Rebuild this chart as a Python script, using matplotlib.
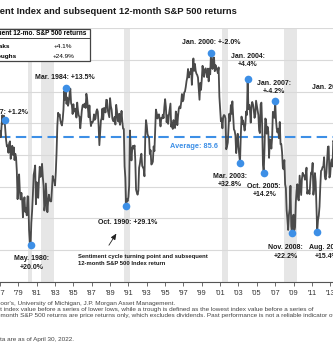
import matplotlib
matplotlib.use("Agg")
import matplotlib.pyplot as plt
from matplotlib.patches import Rectangle
import numpy as np

plt.rcParams['font.family'] = ['Liberation Sans', 'DejaVu Sans']

# University of Michigan consumer sentiment, monthly, Jan 1977 - Dec 2013
start_year = 1977
sentiment = [
    87.5, 85.6, 89.1, 92.5, 89.8, 92.4, 90.9, 87.6, 84.6, 82.7, 83.0, 80.7,   # 1977
    83.7, 84.3, 78.8, 81.6, 82.9, 80.0, 82.4, 78.4, 80.4, 79.3, 75.0, 66.1,   # 1978
    72.1, 73.9, 68.4, 66.0, 68.1, 65.8, 60.4, 64.5, 66.7, 62.1, 63.3, 61.0,   # 1979
    67.0, 66.9, 56.5, 52.7, 51.7, 58.7, 62.3, 67.3, 73.7, 75.0, 76.7, 64.5,   # 1980
    71.4, 66.9, 66.5, 72.4, 76.3, 73.1, 74.1, 77.2, 73.1, 70.3, 62.5, 64.3,   # 1981
    71.0, 66.5, 62.0, 65.5, 67.5, 65.7, 65.4, 65.4, 69.3, 73.4, 72.1, 71.9,   # 1982
    70.4, 74.6, 80.8, 89.1, 93.3, 92.2, 92.8, 90.9, 89.9, 89.3, 91.1, 94.2,   # 1983
    100.1, 97.4, 101.0, 96.1, 98.1, 95.5, 96.6, 99.1, 100.9, 96.3, 95.7, 92.9,  # 1984
    96.0, 93.7, 93.7, 94.6, 91.8, 96.5, 94.0, 92.4, 92.1, 88.4, 90.9, 93.9,   # 1985
    95.6, 95.9, 95.1, 96.2, 94.8, 99.3, 97.7, 94.9, 91.9, 95.6, 91.4, 89.1,   # 1986
    90.4, 90.2, 90.8, 92.8, 91.1, 91.5, 93.7, 94.4, 93.6, 89.3, 83.1, 86.8,   # 1987
    90.8, 91.6, 94.6, 91.2, 94.8, 94.7, 93.4, 97.4, 97.3, 94.1, 93.0, 91.9,   # 1988
    97.9, 95.4, 94.3, 91.5, 90.7, 90.6, 92.0, 89.6, 95.8, 93.9, 90.9, 90.5,   # 1989
    93.0, 89.5, 91.3, 93.9, 90.6, 88.3, 88.2, 76.4, 72.8, 63.9, 66.0, 65.5,   # 1990
    66.8, 70.4, 87.7, 81.8, 78.3, 82.1, 82.9, 82.0, 83.0, 78.3, 69.1, 68.2,   # 1991
    67.5, 68.8, 76.0, 77.2, 79.2, 80.4, 76.6, 76.1, 75.6, 73.3, 85.3, 91.0,   # 1992
    89.3, 86.6, 85.9, 85.6, 80.3, 81.5, 77.0, 77.3, 77.9, 82.7, 81.2, 88.2,   # 1993
    94.3, 93.2, 91.5, 92.6, 92.8, 91.2, 89.0, 91.7, 91.5, 92.7, 91.6, 95.1,   # 1994
    97.6, 95.1, 90.3, 92.5, 89.8, 92.7, 94.4, 96.2, 88.9, 90.2, 88.2, 91.0,   # 1995
    89.3, 88.5, 93.7, 92.7, 89.4, 92.4, 94.7, 95.3, 94.7, 96.5, 99.2, 96.9,   # 1996
    97.4, 99.7, 100.0, 101.4, 103.2, 104.5, 107.1, 104.4, 106.0, 105.6, 107.2, 102.1,  # 1997
    106.6, 110.4, 106.5, 108.7, 106.5, 105.6, 105.2, 104.4, 100.9, 97.4, 102.7, 100.5,  # 1998
    103.9, 108.1, 105.7, 104.6, 106.8, 107.3, 106.0, 104.5, 107.2, 103.2, 107.2, 105.4,  # 1999
    112.0, 111.3, 107.1, 109.2, 110.7, 106.4, 108.3, 107.3, 106.8, 105.8, 107.6, 98.4,  # 2000
    94.7, 90.6, 91.5, 88.4, 92.0, 92.6, 92.4, 91.5, 81.8, 82.7, 83.9, 88.8,   # 2001
    93.0, 90.7, 95.7, 93.0, 96.9, 92.4, 88.1, 87.6, 86.1, 80.6, 84.2, 86.7,   # 2002
    82.4, 79.9, 77.6, 86.0, 92.1, 89.7, 90.9, 89.3, 87.7, 89.6, 93.7, 92.6,   # 2003
    103.8, 94.4, 95.8, 94.2, 90.2, 95.6, 96.7, 95.9, 94.2, 91.7, 92.8, 97.1,  # 2004
    95.5, 94.1, 92.6, 87.7, 86.9, 96.0, 96.5, 89.1, 76.9, 74.2, 81.6, 91.5,   # 2005
    91.2, 86.7, 88.9, 87.4, 79.1, 84.9, 84.7, 82.0, 85.4, 93.6, 92.1, 91.7,   # 2006
    96.9, 91.3, 88.4, 87.1, 88.3, 85.3, 90.4, 83.4, 83.4, 80.9, 76.1, 75.5,   # 2007
    78.4, 70.8, 69.5, 62.6, 59.8, 56.4, 61.2, 63.0, 70.3, 57.6, 55.3, 60.1,   # 2008
    61.2, 56.3, 57.3, 65.1, 68.7, 70.8, 66.0, 65.7, 73.5, 70.6, 67.4, 72.5,   # 2009
    74.4, 73.6, 73.6, 72.2, 73.6, 76.0, 67.8, 68.9, 68.2, 67.7, 71.6, 74.5,   # 2010
    74.2, 77.5, 67.5, 69.8, 74.3, 71.5, 63.7, 55.8, 59.5, 60.8, 63.7, 69.9,   # 2011
    75.0, 75.3, 76.2, 76.4, 79.3, 73.2, 72.3, 74.3, 78.3, 82.6, 82.7, 72.9,   # 2012
    73.8, 77.6, 78.6, 76.4, 84.5, 84.1, 85.1, 82.1, 77.5, 73.2, 75.1, 82.5,   # 2013
]
average = 85.6

# turning points as (year, month)
turning_points = [(1977, 7), (1980, 5), (1984, 3), (1990, 10), (2000, 1), (2003, 3),
                  (2004, 1), (2005, 10), (2007, 1), (2008, 11), (2011, 8)]

# recessions (start, end) in decimal years
recessions = [(1980.0, 1980.5), (1981.5, 1982.87), (1990.5, 1991.17),
              (2001.17, 2001.83), (2007.92, 2009.42)]

# labels next to the turning points: text, x (year), y (index level), alignment
point_labels = [
    ("Jul. 1977: +1.2%", 1980.05, 93.5, "right"),
    ("May. 1980:\n+20.0%", 1980.43, 46.0, "center"),
    ("Mar. 1984: +13.5%", 1984.12, 104.4, "center"),
    ("Oct. 1990: +29.1%", 1990.92, 58.6, "center"),
    ("Jan. 2000: +-2.0%", 2000.04, 115.4, "center"),
    ("Mar. 2003:\n+32.8%", 2002.03, 71.9, "center"),
    ("Jan. 2004:\n+4.4%", 2003.99, 109.7, "center"),
    ("Oct. 2005:\n+14.2%", 2005.8, 68.8, "center"),
    ("Jan. 2007:\n+-4.2%", 2006.83, 101.3, "center"),
    ("Nov. 2008:\n+22.2%", 2008.13, 49.5, "center"),
    ("Aug. 2011:\n+15.4%", 2012.55, 49.5, "center"),
    ("Jan. 2015:", 2011.0, 101.4, "left"),
]

table_header = "Subsequent 12-mo. S&P 500 returns"
table_rows = ["Peaks", "Troughs"]
table_values = ["+4.1%", "+24.9%"]

title = "Consumer Sentiment Index and subsequent 12-month S&P 500 returns"
notes = [
    "Source: Standard & Poor's, University of Michigan, J.P. Morgan Asset Management.",
    "Peak is defined as the highest index value before a series of lower lows, while a trough is defined as the lowest index value before a series of",
    "higher highs. Subsequent 12-month S&P 500 returns are price returns only, which excludes dividends. Past performance is not a reliable indicator of current and future results.",
    "Data are as of April 30, 2022.",
]

W, H = 333, 360
BLUE = '#3d8fe6'
DARK = '#4a4a4a'


def fp(x, y):
    # pixel position on the canvas -> figure fraction
    return x / W, 1 - y / H


def year_of(px):
    return 1979 + (px - 15) / 9.27


fig = plt.figure(figsize=(W / 100, H / 100), dpi=100)
ax = fig.add_axes([0, 78 / H, 1, 254 / H])
renderer = fig.canvas.get_renderer()


def text_from(x, y, s, prefix, **kw):
    # draw s so that the part after `prefix` starts at pixel x
    tmp = fig.text(0, 0, prefix, **kw)
    w = tmp.get_window_extent(renderer).width
    tmp.remove()
    fig.text(*fp(x - w, y), s, ha='left', **kw)


dates = start_year + np.arange(len(sentiment)) / 12
values = np.array(sentiment)

for a, b in recessions:
    ax.axvspan(a, b, color='#e6e6e6', lw=0, zorder=0)

ax.plot(dates, values, color=DARK, lw=1.3, zorder=3)
ax.axhline(average, color=BLUE, lw=1.5, dashes=(5, 2.6), zorder=2)
ax.text(1998.2, 82.8, f"Average: {average}", color=BLUE, fontsize=5.3,
        fontweight='bold', ha='center', va='center', zorder=4)

tp_x = [y + (m - 1) / 12 for y, m in turning_points]
tp_y = [sentiment[(y - start_year) * 12 + m - 1] for y, m in turning_points]
ax.plot(tp_x, tp_y, 'o', color=BLUE, ms=5.5, mec='none', zorder=5)

for txt, x, y, ha in point_labels:
    ax.text(x, y, txt, fontsize=5.0, fontweight='bold', ha=ha, va='center',
            color='#1a1a1a', linespacing=1.3, zorder=6, clip_on=False)

ax.text(1985.47, 46.9, "Sentiment cycle turning point and subsequent\n12-month S&P 500 Index return",
        fontsize=4.2, fontweight='bold', ha='left', va='center', color='#1a1a1a', linespacing=1.3)
ax.annotate("", xy=(1989.85, 56.0), xytext=(1988.71, 50.85),
            arrowprops=dict(arrowstyle='-|>,head_length=0.35,head_width=0.15', color='#222', lw=0.6))

ax.set_xlim(year_of(0), year_of(W))
ax.set_ylim(40, 120)
ax.set_yticks(np.arange(40, 121, 10))
ax.yaxis.grid(True, color='#d9d9d9', lw=0.8, zorder=1)
ax.tick_params(axis='y', length=0, labelleft=False)
ticks = np.arange(1977, 2014, 2)
ax.set_xticks(ticks)
ax.set_xticklabels([f"'{t % 100:02d}" for t in ticks], fontsize=5.3, color='#333')
ax.tick_params(axis='x', length=3, width=0.6, color='#555', pad=2.5)
for side in ['left', 'right', 'top']:
    ax.spines[side].set_visible(False)
ax.spines['bottom'].set_color('#555')
ax.spines['bottom'].set_linewidth(0.8)
ax.set_axisbelow(True)

# title, cut off by the left edge of the canvas
fig.text(*fp(237, 12), title, fontsize=6.75, fontweight='bold', ha='right', va='center', color='#1a1a1a')

# returns table in the top left corner
x0, y0 = fp(-60, 61)
fig.patches.append(Rectangle((x0 + 1.2 / W, y0 - 1.2 / H), 150 / W, 32.3 / H, transform=fig.transFigure,
                             facecolor='#bdbdbd', edgecolor='none', zorder=7))
fig.patches.append(Rectangle((x0, y0), 150 / W, 32.3 / H, transform=fig.transFigure,
                             facecolor='white', edgecolor='#444', lw=0.9, zorder=8))
fig.lines.append(plt.Line2D([0, 90 / W], [1 - 38 / H] * 2, transform=fig.transFigure,
                            color='#444', lw=0.7, zorder=9))
fig.text(*fp(86, 33.3), table_header, fontsize=4.7, fontweight='bold', ha='right', va='center', zorder=10)
for (lbl, val), (xe, yc) in zip(zip(table_rows, table_values), [(10, 46), (17.3, 56.7)]):
    fig.text(*fp(xe, yc), lbl, fontsize=4.6, fontweight='bold', ha='right', va='center', zorder=10)
    fig.text(*fp(63.3, yc), val, fontsize=4.6, ha='center', va='center', zorder=10)

# footnotes
note_kw = dict(fontsize=4.6, color='#444', va='center')
text_from(0, 303, notes[0], "Source: Standard & P", **note_kw)
text_from(0, 309.5, notes[1], "Peak is defined as the highes", **note_kw)
text_from(0, 315.5, notes[2], "higher highs. Subsequent 12-", **note_kw)
text_from(0, 339, notes[3], "Da", **note_kw)

fig.savefig("out.png", dpi=100)
